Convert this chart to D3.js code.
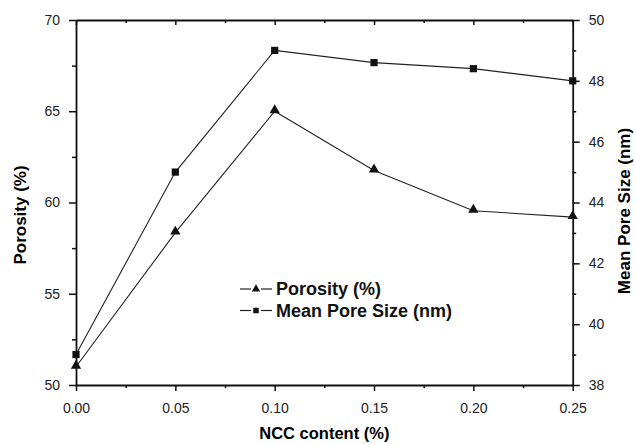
<!DOCTYPE html>
<html>
<head>
<meta charset="utf-8">
<script src="https://cdn.jsdelivr.net/npm/d3@7"></script>
<style>
  body { margin: 0; background: #fff; }
  svg { display: block; font-family: "Liberation Sans", Arial, sans-serif; }
  .axis path, .axis line { stroke: #111; }
  .axis text { fill: #222; font-size: 14px; }
</style>
</head>
<body>
<svg id="chart"></svg>
<script>
// data
const nccContent = [0.00, 0.05, 0.10, 0.15, 0.20, 0.25];
const porosity = [51.0, 58.35, 65.0, 61.75, 59.55, 59.2];
const poreSize = [39.0, 45.0, 49.0, 48.6, 48.4, 48.0];

const xTicks = [0, 0.05, 0.10, 0.15, 0.20, 0.25];
const xMinor = [0.025, 0.075, 0.125, 0.175, 0.225];
const leftTicks = [50, 55, 60, 65, 70];
const leftMinor = [52.5, 57.5, 62.5, 67.5];
const rightTicks = [38, 40, 42, 44, 46, 48, 50];
const rightMinor = [39, 41, 43, 45, 47, 49];

const width = 636, height = 444;
const plotLeft = 76, plotRight = 572.7, plotTop = 20, plotBottom = 385;

const svg = d3.select('#chart')
    .attr('width', width)
    .attr('height', height);

const x = d3.scaleLinear().domain([0, 0.25]).range([plotLeft, plotRight]);
const yL = d3.scaleLinear().domain([50, 70]).range([plotBottom, plotTop]);
const yR = d3.scaleLinear().domain([38, 50]).range([plotBottom, plotTop]);

// lines
const porosityLine = d3.line()
    .x((d, i) => x(nccContent[i]))
    .y(d => yL(d));
const poreLine = d3.line()
    .x((d, i) => x(nccContent[i]))
    .y(d => yR(d));

svg.append('path')
    .datum(poreSize)
    .attr('d', poreLine)
    .attr('fill', 'none')
    .attr('stroke', '#222')
    .attr('stroke-width', 1.1);

svg.append('path')
    .datum(porosity)
    .attr('d', porosityLine)
    .attr('fill', 'none')
    .attr('stroke', '#222')
    .attr('stroke-width', 1.1);

const tri = d3.symbol().type(d3.symbolTriangle).size(46);
const sq = d3.symbol().type(d3.symbolSquare).size(52);

svg.append('g')
    .selectAll('path')
    .data(poreSize)
    .enter().append('path')
    .attr('d', sq)
    .attr('transform', (d, i) => `translate(${x(nccContent[i])},${yR(d)})`)
    .attr('fill', '#111');

svg.append('g')
    .selectAll('path')
    .data(porosity)
    .enter().append('path')
    .attr('d', tri)
    .attr('transform', (d, i) => `translate(${x(nccContent[i])},${yL(d) - 1})`)
    .attr('fill', '#111');

// axes
const axisStyle = (g, w) => {
    g.select('.domain').attr('stroke-width', w);
    g.selectAll('.tick line').attr('stroke-width', 1.5);
};
const minorStyle = g => {
    g.select('.domain').remove();
    g.selectAll('.tick line').attr('stroke-width', 1.5);
};

svg.append('g')
    .attr('class', 'axis')
    .attr('transform', `translate(0,${plotBottom})`)
    .call(d3.axisBottom(x).tickValues(xTicks).tickFormat(d3.format('.2f'))
        .tickSizeInner(6).tickSizeOuter(0).tickPadding(12))
    .call(g => axisStyle(g, 1.8));

svg.append('g')
    .attr('class', 'axis')
    .attr('transform', `translate(0,${plotBottom})`)
    .call(d3.axisBottom(x).tickValues(xMinor).tickFormat('').tickSizeInner(3).tickSizeOuter(0))
    .call(minorStyle);

svg.append('g')
    .attr('class', 'axis')
    .attr('transform', `translate(0,${plotTop})`)
    .call(d3.axisTop(x).tickValues(xTicks).tickFormat('').tickSizeInner(-5).tickSizeOuter(0))
    .call(g => axisStyle(g, 1.8));

svg.append('g')
    .attr('class', 'axis')
    .attr('transform', `translate(0,${plotTop})`)
    .call(d3.axisTop(x).tickValues(xMinor).tickFormat('').tickSizeInner(-3).tickSizeOuter(0))
    .call(minorStyle);

svg.append('g')
    .attr('class', 'axis')
    .attr('transform', `translate(${plotLeft},0)`)
    .call(d3.axisLeft(yL).tickValues(leftTicks).tickFormat(d3.format('d'))
        .tickSizeInner(7).tickSizeOuter(0).tickPadding(9))
    .call(g => axisStyle(g, 1.8));

svg.append('g')
    .attr('class', 'axis')
    .attr('transform', `translate(${plotLeft},0)`)
    .call(d3.axisLeft(yL).tickValues(leftMinor).tickFormat('').tickSizeInner(4).tickSizeOuter(0))
    .call(minorStyle);

svg.append('g')
    .attr('class', 'axis')
    .attr('transform', `translate(${plotRight},0)`)
    .call(d3.axisRight(yR).tickValues(rightTicks).tickFormat(d3.format('d'))
        .tickSizeInner(7).tickSizeOuter(0).tickPadding(9))
    .call(g => axisStyle(g, 1.8));

svg.append('g')
    .attr('class', 'axis')
    .attr('transform', `translate(${plotRight},0)`)
    .call(d3.axisRight(yR).tickValues(rightMinor).tickFormat('').tickSizeInner(3.5).tickSizeOuter(0))
    .call(minorStyle);

// axis titles
svg.append('text')
    .attr('x', (plotLeft + plotRight) / 2)
    .attr('y', 439)
    .attr('text-anchor', 'middle')
    .attr('font-size', 16.5)
    .attr('font-weight', 'bold')
    .text('NCC content (%)');

svg.append('text')
    .attr('transform', 'translate(20,215) rotate(-90)')
    .attr('dy', '0.35em')
    .attr('text-anchor', 'middle')
    .attr('font-size', 17)
    .attr('font-weight', 'bold')
    .text('Porosity (%)');

svg.append('text')
    .attr('transform', 'translate(624,211) rotate(-90)')
    .attr('dy', '0.35em')
    .attr('text-anchor', 'middle')
    .attr('font-size', 17)
    .attr('font-weight', 'bold')
    .text('Mean Pore Size (nm)');

// legend
const legendItems = [
    { label: 'Porosity (%)', symbol: d3.symbol().type(d3.symbolTriangle).size(30) },
    { label: 'Mean Pore Size (nm)', symbol: d3.symbol().type(d3.symbolSquare).size(30) }
];
const legend = svg.append('g').attr('transform', 'translate(240,295)');
legendItems.forEach((item, i) => {
    const row = legend.append('g').attr('transform', `translate(0,${i * 21.5})`);
    [[0, 11], [21, 32]].forEach(seg => {
        row.append('line')
            .attr('x1', seg[0]).attr('x2', seg[1])
            .attr('y1', -6).attr('y2', -6)
            .attr('stroke', '#222')
            .attr('stroke-width', 1.2);
    });
    row.append('path')
        .attr('d', item.symbol)
        .attr('transform', 'translate(16,-6)')
        .attr('fill', '#111');
    row.append('text')
        .attr('x', 36)
        .attr('font-size', 18)
        .attr('font-weight', 'bold')
        .attr('fill', '#111')
        .text(item.label);
});
</script>
</body>
</html>
